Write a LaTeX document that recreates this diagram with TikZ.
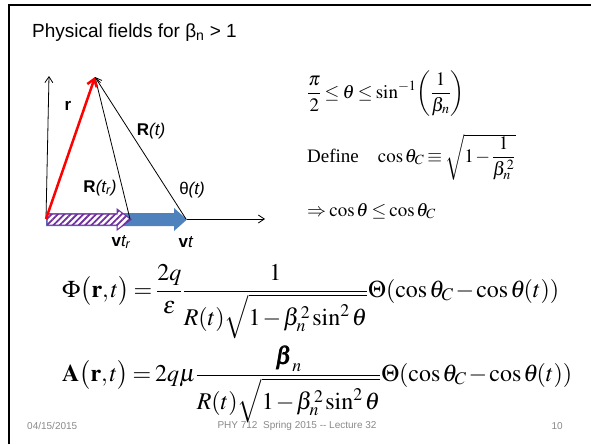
\documentclass[tikz,border=0pt]{standalone}
\usepackage{amsmath}
\usepackage{mathptmx}
\usepackage{bm}
\usepackage[no-math]{fontspec}
\setmainfont{Liberation Serif}
\setsansfont{Liberation Sans}
\usetikzlibrary{arrows.meta, patterns.meta}
\definecolor{slideblue}{RGB}{79,129,189}
\definecolor{hatchpurple}{RGB}{112,48,160}
\definecolor{footgray}{RGB}{137,137,137}
\thinmuskip=1.5mu
\medmuskip=1.5mu plus 1mu
\thickmuskip=3mu plus 1mu
\newcommand{\stepfn}{\Theta(\cos\theta_C-\cos\theta\!(t))}

\tikzset{
  lbl/.style={font=\fontsize{17}{20}\selectfont\sffamily, inner sep=0pt},
  eqn/.style={font=\fontsize{19}{23}\selectfont, inner sep=0pt, anchor=base west},
  bigeqn/.style={font=\fontsize{24}{28}\selectfont, inner sep=0pt, anchor=base west},
  foot/.style={font=\fontsize{10}{12}\selectfont\sffamily, text=footgray, inner sep=0pt},
  thinvec/.style={black, line width=0.8pt, -{Straight Barb[length=6pt,width=8pt]}},
}

\begin{document}
\begin{tikzpicture}[x=1pt, y=-1pt]
                \useasboundingbox (0,0) rectangle (591,444);
                % slide frame
                \draw[line width=2.5pt] (9,444) -- (9,5) -- (591,5);
                \node[font=\fontsize{19}{22}\selectfont\sffamily, inner sep=0pt, anchor=west] (title) at (32,33) {Physical fields for β\textsubscript{n} > 1};
                % points of the sketch
                \coordinate (O) at (46,219);
                \coordinate (P) at (95,77);
                \coordinate (Y) at (49,76);
                \coordinate (X) at (265,219);
                \coordinate (Tr) at (130,219);
                \coordinate (T) at (186,219);
                \draw[thinvec] (O) -- (Y);
                \draw[thinvec] (O) -- (X);
                \fill[slideblue] (46,213) -- (174,213) -- (174,208) -- (187,219.5) -- (174,231) -- (174,226) -- (46,226) -- cycle;
                \draw[hatchpurple, line width=1pt, preaction={fill=white}, pattern={Lines[angle=45,distance=4.5pt,line width=1.8pt]}, pattern color=hatchpurple] (47,214) -- (117,214) -- (117,209) -- (131,219.5) -- (117,230) -- (117,225) -- (47,225) -- cycle;
                \draw[thinvec] (Tr) -- (P);
                \draw[thinvec] (T) -- (P);
                \draw[red, line width=2.5pt, -{Straight Barb[length=7pt,width=10pt]}] (O) -- (P);
                \node[lbl] (rlbl) at (68,106) {\textbf{r}};
                \node[lbl] (Rt) at (151,131) {\textbf{R}\textit{(t)}};
                \node[lbl] (Rtr) at (100,188) {\textbf{R}\textit{(t\textsubscript{r})}};
                \node[lbl] (theta) at (192,190) {θ\textit{(t)}};
                \node[lbl] (vtr) at (121,242) {\textbf{v}\textit{t\textsubscript{r}}};
                \node[lbl] (vt) at (186,242) {\textbf{v}\textit{t}};
                % conditions
                \node[eqn] (range) at (307,98) {$\dfrac{\pi}{2}\le\theta\le\sin^{-1}\!\left(\dfrac{1}{\beta_n}\right)$};
                \node[eqn] (define) at (307,162) {Define\quad $\cos\theta_C\equiv\sqrt{1-\dfrac{1}{\beta_n^{\,2}}}$};
                \node[eqn] (implies) at (307,216) {$\Rightarrow\cos\theta\le\cos\theta_C$};
                % potentials
                \node[bigeqn] (phi) at (62,297) {$\Phi\bigl(\mathbf{r},t\bigr)=\dfrac{2q}{\varepsilon}\dfrac{1}{R(t)\sqrt{1-\beta_n^{\,2}\sin^2\theta}}\stepfn$};
                \node[bigeqn] (vecA) at (62,381) {$\mathbf{A}\bigl(\mathbf{r},t\bigr)=2q\mu\dfrac{\bm{\beta}_n}{R(t)\sqrt{1-\beta_n^{\,2}\sin^2\theta}}\stepfn$};
                % footer
                \node[foot, anchor=west] (date) at (27,426) {04/15/2015};
                \node[foot] (course) at (297,426) {PHY 712\ \ Spring 2015 {-}{-} Lecture 32};
                \node[foot, anchor=east] (page) at (563,426) {10};
\end{tikzpicture}
\end{document}
